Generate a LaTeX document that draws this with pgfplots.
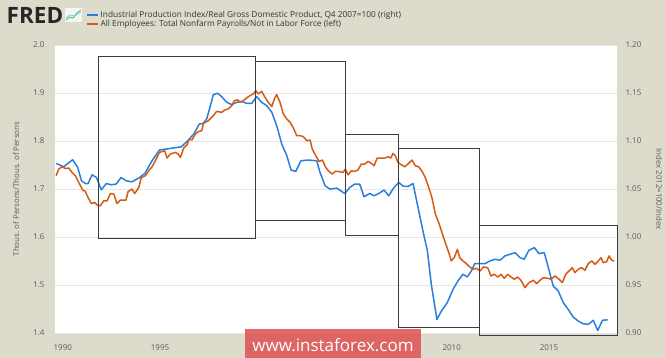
\documentclass[border=0pt]{standalone}
\usepackage{pgfplots}
\pgfplotsset{compat=1.18}
\usepackage{fontspec}
\setmainfont{Open Sans}
\definecolor{bgc}{RGB}{221,219,204}
\definecolor{fblue}{RGB}{40,128,220}
\definecolor{forange}{RGB}{212,92,20}
\definecolor{tickc}{RGB}{90,90,90}
\definecolor{gridc}{RGB}{230,230,230}
\definecolor{boxc}{RGB}{60,60,60}
\definecolor{wm}{RGB}{222,86,86}

\pgfplotstableread{
year val
1989.66 1.0766
1990.05 1.0732
1990.51 1.0805
1990.77 1.0724
1990.96 1.0586
1991.16 1.0557
1991.30 1.0557
1991.51 1.0648
1991.73 1.0620
1991.98 1.0492
1992.24 1.0557
1992.50 1.0544
1992.74 1.0551
1993.00 1.0620
1993.25 1.0586
1993.56 1.0575
1993.91 1.0614
1994.22 1.0662
1994.59 1.0794
1994.97 1.0906
1995.36 1.0917
1995.88 1.0933
1996.10 1.0940
1996.39 1.0996
1996.74 1.1073
1997.02 1.1177
1997.23 1.1184
1997.40 1.1230
1997.57 1.1351
1997.74 1.1483
1997.97 1.1497
1998.17 1.1462
1998.43 1.1403
1998.69 1.1379
1998.95 1.1403
1999.20 1.1413
1999.46 1.1392
1999.72 1.1392
1999.97 1.1462
2000.23 1.1403
2000.49 1.1368
2000.75 1.1299
2001.00 1.1160
2001.26 1.0969
2001.52 1.0847
2001.74 1.0697
2001.98 1.0683
2002.25 1.0794
2002.63 1.0802
2003.06 1.0794
2003.23 1.0672
2003.49 1.0533
2003.74 1.0499
2004.09 1.0509
2004.50 1.0453
2004.76 1.0516
2005.01 1.0551
2005.27 1.0551
2005.49 1.0419
2005.78 1.0453
2006.01 1.0429
2006.25 1.0453
2006.52 1.0489
2006.76 1.0429
2007.03 1.0516
2007.28 1.0568
2007.50 1.0530
2007.75 1.0526
2008.01 1.0557
2008.27 1.0307
2008.52 1.0064
2008.75 0.9855
2008.95 0.9507
2009.24 0.9142
2009.47 0.9229
2009.77 0.9315
2010.07 0.9455
2010.32 0.9542
2010.58 0.9612
2010.80 0.9584
2011.01 0.9646
2011.18 0.9722
2011.46 0.9722
2011.71 0.9722
2011.97 0.9751
2012.23 0.9768
2012.49 0.9758
2012.74 0.9803
2013.00 0.9820
2013.26 0.9837
2013.51 0.9785
2013.73 0.9768
2013.97 0.9862
2014.25 0.9889
2014.49 0.9827
2014.76 0.9837
2014.97 0.9681
2015.22 0.9490
2015.48 0.9437
2015.74 0.9315
2015.99 0.9246
2016.25 0.9166
2016.51 0.9124
2016.77 0.9096
2017.02 0.9090
2017.28 0.9132
2017.51 0.9027
2017.75 0.9132
2018.02 0.9138
}\indprod

\pgfplotstableread{
year val
1989.66 1.7276
1989.79 1.7415
1989.96 1.7463
1990.13 1.7428
1990.31 1.7436
1990.48 1.7344
1990.65 1.7276
1990.82 1.7136
1991.03 1.6977
1991.16 1.6948
1991.30 1.6822
1991.47 1.6697
1991.65 1.6718
1991.76 1.6670
1991.93 1.6649
1992.11 1.6754
1992.28 1.6754
1992.45 1.6906
1992.62 1.6894
1992.79 1.6697
1992.96 1.6768
1993.14 1.6768
1993.25 1.6768
1993.36 1.6948
1993.56 1.6998
1993.70 1.6906
1993.91 1.7031
1994.04 1.7240
1994.25 1.7276
1994.42 1.7380
1994.59 1.7463
1994.76 1.7589
1994.97 1.7762
1995.24 1.7797
1995.36 1.7645
1995.53 1.7729
1995.79 1.7762
1995.93 1.7729
1996.05 1.7658
1996.22 1.7854
1996.39 1.7923
1996.51 1.8042
1996.65 1.8021
1996.82 1.8146
1996.99 1.8200
1997.15 1.8215
1997.23 1.8367
1997.49 1.8424
1997.74 1.8528
1997.92 1.8618
1998.17 1.8597
1998.34 1.8647
1998.51 1.8668
1998.69 1.8737
1998.82 1.8841
1999.00 1.8856
1999.12 1.8806
1999.29 1.8841
1999.46 1.8898
1999.63 1.8946
1999.80 1.8981
1999.92 1.9050
2000.06 1.8981
2000.23 1.9035
2000.40 1.8910
2000.57 1.8806
2000.75 1.8716
2000.88 1.8877
2001.00 1.8967
2001.17 1.8806
2001.34 1.8564
2001.52 1.8459
2001.69 1.8388
2001.86 1.8271
2002.03 1.8111
2002.20 1.8111
2002.37 1.8090
2002.55 1.8006
2002.72 1.8021
2002.83 1.7833
2003.01 1.7693
2003.18 1.7574
2003.35 1.7603
2003.52 1.7449
2003.69 1.7365
2003.86 1.7311
2004.00 1.7365
2004.17 1.7365
2004.41 1.7344
2004.53 1.7415
2004.67 1.7296
2004.84 1.7380
2005.01 1.7365
2005.18 1.7395
2005.35 1.7520
2005.53 1.7520
2005.70 1.7574
2005.87 1.7532
2006.01 1.7484
2006.17 1.7645
2006.38 1.7645
2006.56 1.7645
2006.73 1.7672
2006.87 1.7645
2006.98 1.7741
2007.10 1.7693
2007.24 1.7553
2007.41 1.7505
2007.58 1.7463
2007.75 1.7520
2007.96 1.7603
2008.13 1.7484
2008.30 1.7463
2008.48 1.7365
2008.64 1.7240
2008.82 1.7031
2008.99 1.6810
2009.16 1.6476
2009.33 1.6301
2009.50 1.6092
2009.67 1.5883
2009.85 1.5674
2009.98 1.5501
2010.15 1.5585
2010.29 1.5745
2010.41 1.5570
2010.58 1.5501
2010.75 1.5445
2010.93 1.5376
2011.10 1.5328
2011.26 1.5349
2011.46 1.5292
2011.63 1.5376
2011.85 1.5361
2012.02 1.5188
2012.19 1.5223
2012.37 1.5167
2012.54 1.5223
2012.70 1.5140
2012.88 1.5223
2013.05 1.5167
2013.22 1.5119
2013.39 1.5167
2013.56 1.5098
2013.77 1.4944
2013.97 1.5048
2014.20 1.5098
2014.37 1.5027
2014.54 1.5098
2014.71 1.5152
2014.94 1.5140
2015.11 1.5119
2015.31 1.5188
2015.52 1.5119
2015.69 1.5048
2015.86 1.5223
2016.03 1.5292
2016.20 1.5361
2016.34 1.5257
2016.51 1.5328
2016.68 1.5361
2016.85 1.5307
2017.02 1.5445
2017.20 1.5501
2017.37 1.5432
2017.54 1.5501
2017.68 1.5570
2017.79 1.5466
2017.97 1.5486
2018.09 1.5605
2018.23 1.5516
2018.36 1.5501
}\payroll

\begin{document}
\begin{tikzpicture}[x=1pt,y=1pt]
\fill[bgc] (-55,-25) rectangle (610,333);
% FRED logo
\node[anchor=west, inner sep=0pt, font=\fontsize{22.5}{24}\selectfont\bfseries, text=black!85] at (-48.5,317.5) {FRED};
\fill[white!92!gray] (10,311) rectangle (27,325);
\draw[green!55!gray, line width=0.8pt] (11,313) -- (15,316) -- (18,315) -- (22,320) -- (26,323);
\draw[fblue!60, line width=0.6pt] (11,315) -- (15,318) -- (19,317) -- (26,321);

\begin{axis}[
  at={(0,0)}, anchor=south west, scale only axis,
  width=562pt, height=288pt,
  xmin=1989.6, xmax=2018.5,
  ymin=0.9, ymax=1.2,
  axis y line*=right, axis x line*=bottom,
  axis line style={draw=none},
  axis background/.style={fill=white},
  major tick length=0pt,
  xtick={1990,1995,2000,2005,2010,2015},
  ytick={0.90,0.95,1.00,1.05,1.10,1.15,1.20},
  ymajorgrids, major grid style={gridc, line width=0.8pt},
  xticklabel style={/pgf/number format/1000 sep={}, /pgf/number format/assume math mode=true,
    font=\fontsize{8}{9}\selectfont, text=tickc, yshift=-8pt},
  yticklabel style={/pgf/number format/fixed, /pgf/number format/fixed zerofill,
    /pgf/number format/precision=2, /pgf/number format/assume math mode=true,
    font=\fontsize{8}{9}\selectfont, text=tickc, xshift=5pt},
  ylabel={Index 2012=100/Index},
  ylabel style={font=\fontsize{7.8}{9}\selectfont, text=tickc, rotate=180, yshift=8pt},
]
\addplot[fblue, line width=1.5pt, line join=round] table[x=year, y=val] {\indprod};
\end{axis}

\begin{axis}[
  at={(0,0)}, anchor=south west, scale only axis,
  width=562pt, height=288pt,
  xmin=1989.6, xmax=2018.5,
  ymin=1.4, ymax=2.0,
  axis y line*=left, hide x axis,
  axis line style={draw=none},
  major tick length=0pt,
  clip=false,
  ytick={1.4,1.5,1.6,1.7,1.8,1.9,2.0},
  yticklabel style={/pgf/number format/fixed, /pgf/number format/fixed zerofill,
    /pgf/number format/precision=1, /pgf/number format/assume math mode=true,
    font=\fontsize{8}{9}\selectfont, text=tickc, xshift=-7pt},
  ylabel={Thous. of Persons/Thous. of Persons},
  ylabel style={font=\fontsize{7.8}{9}\selectfont, text=tickc, yshift=7pt},
  legend style={draw=none, fill=none, at={(axis description cs:0.055,1.125)}, anchor=north west,
    font=\fontsize{8.3}{9.5}\selectfont, inner sep=0pt, row sep=-1.8pt,
    nodes={inner sep=1.5pt}},
  legend cell align=left,
  legend image code/.code={\draw[#1] (0pt,0pt) -- (11pt,0pt);},
]
\addlegendimage{draw=fblue, line width=2pt}
\addlegendentry{\textcolor{black!80}{Industrial Production Index/Real Gross Domestic Product, Q4 2007=100 (right)}}
\addlegendimage{draw=forange, line width=2pt}
\addlegendentry{\textcolor{black!80}{All Employees: Total Nonfarm Payrolls/Not in Labor Force (left)}}
\addplot[draw=forange, line width=1.5pt, line join=round, forget plot] table[x=year, y=val] {\payroll};
% annotation boxes
\draw[boxc, line width=0.7pt] (axis cs:1991.83,1.976) rectangle (axis cs:1999.90,1.5975);
\draw[boxc, line width=0.7pt] (axis cs:1999.90,1.966) rectangle (axis cs:2004.53,1.635);
\draw[boxc, line width=0.7pt] (axis cs:2004.53,1.8146) rectangle (axis cs:2007.28,1.6044);
\draw[boxc, line width=0.7pt] (axis cs:2007.28,1.7846) rectangle (axis cs:2011.42,1.4123);
\draw[boxc, line width=0.7pt] (axis cs:2011.42,1.6246) rectangle (axis cs:2018.52,1.395);
\end{axis}

% watermark
\fill[wm, fill opacity=0.88] (189.5,-25) rectangle (366.4,4.2);
\node[text=white, font=\fontsize{17}{18}\selectfont] at (278,-12) {www.instaforex.com};
\pgfresetboundingbox
\useasboundingbox (-55,-25) rectangle (610,333);
\end{tikzpicture}
\end{document}
